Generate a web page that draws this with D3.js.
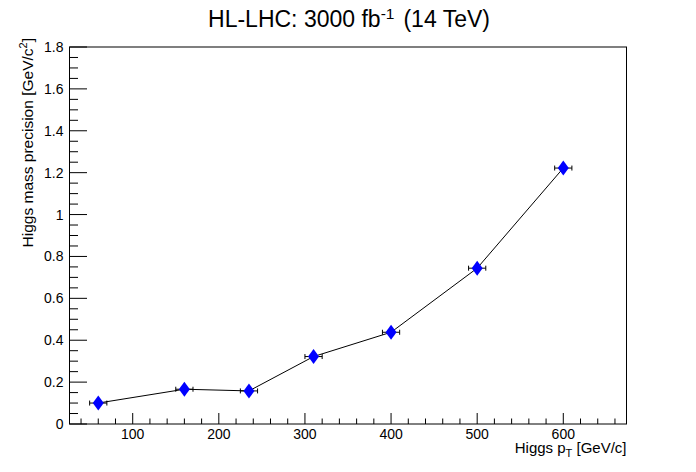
<!DOCTYPE html>
<html>
<head>
<meta charset="utf-8">
<script src="https://d3js.org/d3.v7.min.js"></script>
<style>
  body { margin: 0; background: #fff; }
  svg { display: block; font-family: "Liberation Sans", Arial, sans-serif; }
</style>
</head>
<body>
<svg id="chart" width="696" height="472"></svg>
<script>
// Data
const ptValues = [60, 160, 235, 310, 400, 500, 600];
const ptErrors = [10, 10, 10, 10, 10, 10, 10];
const massPrecision = [0.10, 0.166, 0.158, 0.322, 0.438, 0.744, 1.222];
const xTicks = [100, 200, 300, 400, 500, 600];
const yTicks = [0, 0.2, 0.4, 0.6, 0.8, 1, 1.2, 1.4, 1.6, 1.8];

const width = 696;
const height = 472;
const margin = { top: 47, right: 69.5, bottom: 48, left: 69.5 };

const svg = d3.select("#chart");

// Scales
const x = d3.scaleLinear().domain([26.6, 673.4]).range([margin.left, width - margin.right]);
const y = d3.scaleLinear().domain([0, 1.8]).range([height - margin.bottom, margin.top]);

const x0 = x.range()[0], x1 = x.range()[1];
const y0 = y.range()[0], y1 = y.range()[1];

// Frame
svg.append("rect")
  .attr("x", x0).attr("y", y1)
  .attr("width", x1 - x0).attr("height", y0 - y1)
  .attr("fill", "none").attr("stroke", "#000").attr("stroke-width", 1);

// X axis ticks (major every 100, minor every 20)
const xMinor = d3.range(40, 674, 20).filter(v => v % 100 !== 0);
svg.append("g").selectAll("line.minor").data(xMinor).enter().append("line")
  .attr("x1", d => x(d)).attr("x2", d => x(d))
  .attr("y1", y0).attr("y2", y0 - 5.5)
  .attr("stroke", "#000");
svg.append("g").selectAll("line.major").data(xTicks).enter().append("line")
  .attr("x1", d => x(d)).attr("x2", d => x(d))
  .attr("y1", y0).attr("y2", y0 - 11)
  .attr("stroke", "#000");
svg.append("g").selectAll("text").data(xTicks).enter().append("text")
  .attr("x", d => x(d)).attr("y", 439)
  .attr("text-anchor", "middle")
  .style("font-size", "14px")
  .text(d => d);

// Y axis ticks (major every 0.2, minor every 0.05)
const yMinor = d3.range(0.05, 1.8, 0.05).filter(v => Math.abs(v / 0.2 - Math.round(v / 0.2)) > 0.01);
svg.append("g").selectAll("line").data(yMinor).enter().append("line")
  .attr("x1", x0).attr("x2", x0 + 8.5)
  .attr("y1", d => y(d)).attr("y2", d => y(d))
  .attr("stroke", "#000");
svg.append("g").selectAll("line").data(yTicks).enter().append("line")
  .attr("x1", x0).attr("x2", x0 + 17.5)
  .attr("y1", d => y(d)).attr("y2", d => y(d))
  .attr("stroke", "#000");
svg.append("g").selectAll("text").data(yTicks).enter().append("text")
  .attr("x", x0 - 6).attr("y", d => y(d) + 5)
  .attr("text-anchor", "end")
  .style("font-size", "14px")
  .text(d => d3.format("~g")(d));

// Connecting line
const points = ptValues.map((v, i) => ({ x: v, ex: ptErrors[i], y: massPrecision[i] }));
const line = d3.line().x(d => x(d.x)).y(d => y(d.y));
svg.append("path")
  .datum(points)
  .attr("d", line)
  .attr("fill", "none")
  .attr("stroke", "#000")
  .attr("stroke-width", 1);

// Error bars
const errs = svg.append("g").attr("stroke", "#000").attr("stroke-width", 1);
points.forEach(d => {
  const cy = y(d.y);
  const xl = x(d.x - d.ex), xr = x(d.x + d.ex);
  errs.append("line").attr("x1", xl).attr("x2", xr).attr("y1", cy).attr("y2", cy);
  errs.append("line").attr("x1", xl).attr("x2", xl).attr("y1", cy - 2.5).attr("y2", cy + 2.5);
  errs.append("line").attr("x1", xr).attr("x2", xr).attr("y1", cy - 2.5).attr("y2", cy + 2.5);
});

// Diamond markers
svg.append("g").selectAll("path").data(points).enter().append("path")
  .attr("d", d => {
    const cx = x(d.x), cy = y(d.y);
    return `M${cx},${cy - 7.5}L${cx + 5.5},${cy}L${cx},${cy + 7.5}L${cx - 5.5},${cy}Z`;
  })
  .attr("fill", "#0000ff");

// Title
const title = svg.append("text")
  .attr("x", 349).attr("y", 27)
  .attr("text-anchor", "middle")
  .style("font-size", "23px")
  .attr("fill", "#000");
title.append("tspan").text("HL-LHC: 3000 fb");
title.append("tspan").attr("dy", -8).style("font-size", "15.5px").text("-1");
title.append("tspan").attr("dy", 8).attr("dx", 9).text("(14 TeV)");

// X axis title
const xt = svg.append("text")
  .attr("x", x1).attr("y", 453)
  .attr("text-anchor", "end")
  .style("font-size", "15px");
xt.append("tspan").text("Higgs p");
xt.append("tspan").attr("dy", 4).style("font-size", "11px").text("T");
xt.append("tspan").attr("dy", -4).text(" [GeV/c]");

// Y axis title
const yt = svg.append("text")
  .attr("transform", "translate(33,38) rotate(-90)")
  .attr("text-anchor", "end")
  .style("font-size", "15.5px");
yt.append("tspan").text("Higgs mass precision [GeV/c");
yt.append("tspan").attr("dy", -6).style("font-size", "11px").text("2");
yt.append("tspan").attr("dy", 6).text("]");
</script>
</body>
</html>
